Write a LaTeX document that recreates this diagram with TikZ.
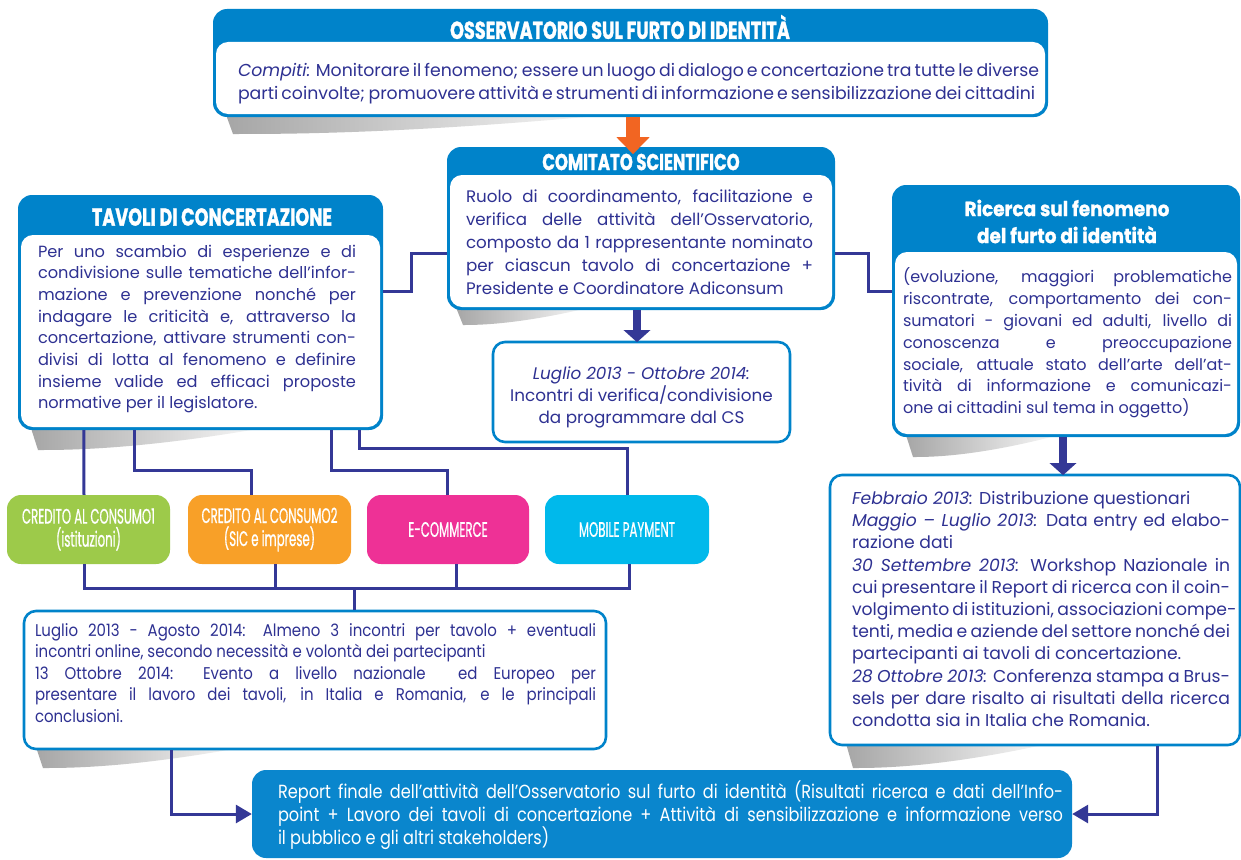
\documentclass[tikz,border=0pt]{standalone}
\usepackage{fontspec}
\setmainfont{Poppins}
\newfontfamily\headfont[FakeStretch=0.72,FakeBold=1.2]{Poppins}
\newfontfamily\condfont[FakeStretch=0.56,FakeBold=0.7]{Poppins}
\newfontfamily\repfont[FakeStretch=0.85]{Poppins}
\newfontfamily\lagfont[FakeStretch=0.88]{Poppins}
\newfontfamily\ricfont[FakeStretch=0.9,FakeBold=1]{Poppins}
\usetikzlibrary{arrows.meta,calc}
\definecolor{hblue}{RGB}{0,131,202}
\definecolor{txtblue}{RGB}{46,49,146}
\definecolor{connc}{RGB}{52,56,150}
\definecolor{oarrow}{RGB}{242,101,34}
\definecolor{cgreen}{RGB}{157,202,74}
\definecolor{corange}{RGB}{248,160,40}
\definecolor{cpink}{RGB}{238,49,150}
\definecolor{ccyan}{RGB}{0,185,235}
\definecolor{rblue}{RGB}{10,134,205}
\newcommand\jline[2]{\makebox[#1][s]{#2}}
\newcommand\lline[2]{\makebox[#1][l]{#2}}
\newcommand\cshadow[4]{\shade[left color=black!35,right color=white] (#1,#3) -- (#2,#3) .. controls ({#1+0.45*(#2-#1)},{#3+#4}) and ({#1+0.15*(#2-#1)},{#3+#4}) .. ({#1+8},{#3+#4}) -- cycle;}
\begin{document}
\begin{tikzpicture}[x=1pt,y=-1pt,
  hdrbox/.style={fill=hblue,rounded corners=14pt,inner sep=0pt,draw=none},
  plainbox/.style={draw=hblue,line width=2.6pt,fill=white,rounded corners=12pt,inner sep=0pt},
  colbox/.style={rounded corners=14pt,inner sep=0pt,text=white,font=\condfont\fontsize{21}{23}\selectfont,align=center,minimum height=69pt},
  bodytxt/.style={text=txtblue,inner sep=0pt,align=left},
  hdrtxt/.style={text=white,inner sep=0pt,font=\headfont\bfseries\fontsize{24.5}{26}\selectfont},
  conn/.style={draw=connc,line width=3pt},
  bigarrow/.style={draw=connc,line width=8pt,-{Triangle[length=12pt,width=26pt]}},
  sidearrow/.style={draw=connc,line width=3pt,-{Triangle[length=16pt,width=18pt]}}
]
\useasboundingbox (0,0) rectangle (1241,859);
\fill[white] (0,0) rectangle (1241,859);

% shadows
\cshadow{225}{640}{112}{22}
\cshadow{455}{600}{305}{20}
\cshadow{30}{280}{425}{25}
\cshadow{905}{1070}{432}{25}
\cshadow{845}{1065}{740}{28}
\cshadow{35}{260}{744}{24}

% top box
\node[hdrbox,minimum width=835pt,minimum height=108pt] (obs) at (630.5,63) {};
\fill[white,rounded corners=12pt] (216,42) rectangle (1045,114);
\node[hdrtxt] (obsH) at (620,27) {OSSERVATORIO SUL FURTO DI IDENTITÀ};
\node[bodytxt,font=\fontsize{17.3}{23}\selectfont] (obsB) at (636.5,84) {\jline{797pt}{\textit{Compiti:} Monitorare il fenomeno; essere un luogo di dialogo e concertazione tra tutte le diverse}\\\jline{797pt}{parti coinvolte; promuovere attività e strumenti di informazione e sensibilizzazione dei cittadini}};

% comitato
\node[hdrbox,minimum width=388pt,minimum height=163pt] (com) at (641,228.5) {};
\fill[white,rounded corners=12pt] (450,175) rectangle (832,307);
\node[hdrtxt,font=\headfont\bfseries\fontsize{23}{24}\selectfont] (comH) at (641,162) {COMITATO SCIENTIFICO};
\node[bodytxt,font=\fontsize{16.7}{23}\selectfont] (comB) at (639.5,242) {\jline{347pt}{Ruolo di coordinamento, facilitazione e}\\
\jline{347pt}{verifica delle attività dell’Osservatorio,}\\
\jline{347pt}{composto da 1 rappresentante nominato}\\
\jline{347pt}{per ciascun tavolo di concertazione +}\\
\lline{347pt}{Presidente e Coordinatore Adiconsum}};

% luglio-ottobre
\node[plainbox,minimum width=297pt,minimum height=100pt] (lo) at (641.5,392) {};
\node[bodytxt,align=center,font=\fontsize{16.8}{22}\selectfont] (loT) at (641.5,397) {\textit{Luglio 2013 - Ottobre 2014:}\\Incontri di verifica/condivisione\\da programmare dal CS};

% tavoli
\node[hdrbox,minimum width=365pt,minimum height=235pt] (tav) at (200.5,312.5) {};
\fill[white,rounded corners=12pt] (21,235) rectangle (380,427);
\node[hdrtxt] (tavH) at (212,217) {TAVOLI DI CONCERTAZIONE};
\node[bodytxt,font=\fontsize{16.2}{21.7}\selectfont] (tavB) at (197,329) {\jline{318pt}{Per uno scambio di esperienze e di}\\
\jline{318pt}{condivisione sulle tematiche dell’infor-}\\
\jline{318pt}{mazione e prevenzione nonché per}\\
\jline{318pt}{indagare le criticità e, attraverso la}\\
\jline{318pt}{concertazione, attivare strumenti con-}\\
\jline{318pt}{divisi di lotta al fenomeno e definire}\\
\jline{318pt}{insieme valide ed efficaci proposte}\\
\lline{318pt}{normative per il legislatore.}};

% ricerca
\node[hdrbox,minimum width=348pt,minimum height=252pt] (ric) at (1066,311) {};
\fill[white,rounded corners=12pt] (895,252) rectangle (1237,434);
\node[text=white,inner sep=0pt,align=center,font=\ricfont\bfseries\fontsize{20.5}{27}\selectfont] (ricH) at (1067,221.5) {Ricerca sul fenomeno\\del furto di identità};
\node[bodytxt,font=\fontsize{16}{21.8}\selectfont] (ricB) at (1067.5,343) {\jline{329pt}{(evoluzione, maggiori problematiche}\\
\jline{329pt}{riscontrate, comportamento dei con-}\\
\jline{329pt}{sumatori - giovani ed adulti, livello di}\\
\jline{329pt}{conoscenza e preoccupazione}\\
\jline{329pt}{sociale, attuale stato dell'arte dell’at-}\\
\jline{329pt}{tività di informazione e comunicazi-}\\
\lline{329pt}{one ai cittadini sul tema in oggetto)}};

% timeline
\node[plainbox,minimum width=410pt,minimum height=270pt] (tl) at (1035,610) {};
\node[bodytxt,font=\fontsize{17.2}{22.2}\selectfont] (tlB) at (1041,609) {\lline{378pt}{\textit{Febbraio 2013:} Distribuzione questionari}\\
\jline{378pt}{\textit{Maggio – Luglio 2013:} Data entry ed elabo-}\\
\lline{378pt}{razione dati}\\
\jline{378pt}{\textit{30 Settembre 2013:} Workshop Nazionale in}\\
\jline{378pt}{cui presentare il Report di ricerca con il coin-}\\
\jline{378pt}{volgimento di istituzioni, associazioni compe-}\\
\jline{378pt}{tenti, media e aziende del settore nonché dei}\\
\lline{378pt}{partecipanti ai tavoli di concertazione.}\\
\jline{378pt}{\textit{28 Ottobre 2013:} Conferenza stampa a Brus-}\\
\jline{378pt}{sels per dare risalto ai risultati della ricerca}\\
\lline{378pt}{condotta sia in Italia che Romania.}};

% coloured boxes
\node[colbox,fill=cgreen,minimum width=163pt] (c1) at (88.5,529.5) {CREDITO AL CONSUMO1\\(istituzioni)};
\node[colbox,fill=corange,minimum width=163pt] (c2) at (269.5,529.5) {CREDITO AL CONSUMO2\\(SIC e imprese)};
\node[colbox,fill=cpink,minimum width=162pt] (c3) at (448,529.5) {E-COMMERCE};
\node[colbox,fill=ccyan,minimum width=164pt] (c4) at (627,529.5) {MOBILE PAYMENT};

% luglio-agosto
\node[plainbox,minimum width=582pt,minimum height=138pt] (lag) at (315,680) {};
\node[bodytxt,font=\lagfont\fontsize{17}{21.5}\selectfont] (lagB) at (315.5,673) {\jline{561pt}{Luglio 2013 - Agosto 2014: Almeno 3 incontri per tavolo + eventuali}\\
\lline{561pt}{incontri online, secondo necessità e volontà dei partecipanti}\\
\jline{561pt}{13 Ottobre 2014: Evento a livello nazionale\ \ ed Europeo per}\\
\jline{561pt}{presentare il lavoro dei tavoli, in Italia e Romania, e le principali}\\
\lline{561pt}{conclusioni.}};

% report
\node[fill=rblue,rounded corners=14pt,inner sep=0pt,minimum width=820pt,minimum height=88pt] (rep) at (662,814) {};
\node[inner sep=0pt,align=left,text=white,font=\repfont\fontsize{19}{23}\selectfont] (repT) at (670.5,815) {\jline{785pt}{Report finale dell’attività dell’Osservatorio sul furto di identità (Risultati ricerca e dati dell’Info-}\\
\jline{785pt}{point + Lavoro dei tavoli di concertazione + Attività di sensibilizzazione e informazione verso}\\
\lline{785pt}{il pubblico e gli altri stakeholders)}};

% connectors
\draw[conn] ([yshift=21.5pt]tav.east) -- ++(28,0) |- ([yshift=-24.5pt]com.west);
\draw[conn] ([yshift=-24.5pt]com.east) -- ++(33,0) |- ([yshift=20pt]ric.west);
\draw[conn] ($(tav.south west)+(66,0)$) -- ([xshift=-4.5pt]c1.north);
\draw[conn] ($(tav.south west)+(117,0)$) -- ++(0,40) -| ([xshift=-18.5pt]c2.north);
\draw[conn] ($(tav.south west)+(314,0)$) -- ++(0,40) -| ([xshift=-1pt]c3.north);
\draw[conn] ($(tav.south west)+(342,0)$) -- ++(0,18) -| (c4.north);
\draw[conn] ([xshift=-4.5pt]c1.south) -- ++(0,24) -| ([xshift=2pt]c4.south);
\draw[conn] ([xshift=5.5pt]c2.south) -- ++(0,24);
\draw[conn] ([xshift=8pt]c3.south) -- ++(0,24);
\draw[conn] ([xshift=39pt]lag.north) -- ++(0,-22);
\draw[sidearrow] ([xshift=-144pt]lag.south) |- (rep.west);
\draw[sidearrow] ([xshift=122pt]tl.south) |- (rep.east);
\draw[bigarrow] ([xshift=-4pt]com.south) -- ++(0,32);
\draw[bigarrow] ([xshift=-3pt]ric.south) -- ++(0,38);
\draw[draw=oarrow,line width=14pt,-{Triangle[length=17pt,width=32pt]}] ([xshift=2.5pt]obs.south) -- ++(0,37);
\end{tikzpicture}
\end{document}
